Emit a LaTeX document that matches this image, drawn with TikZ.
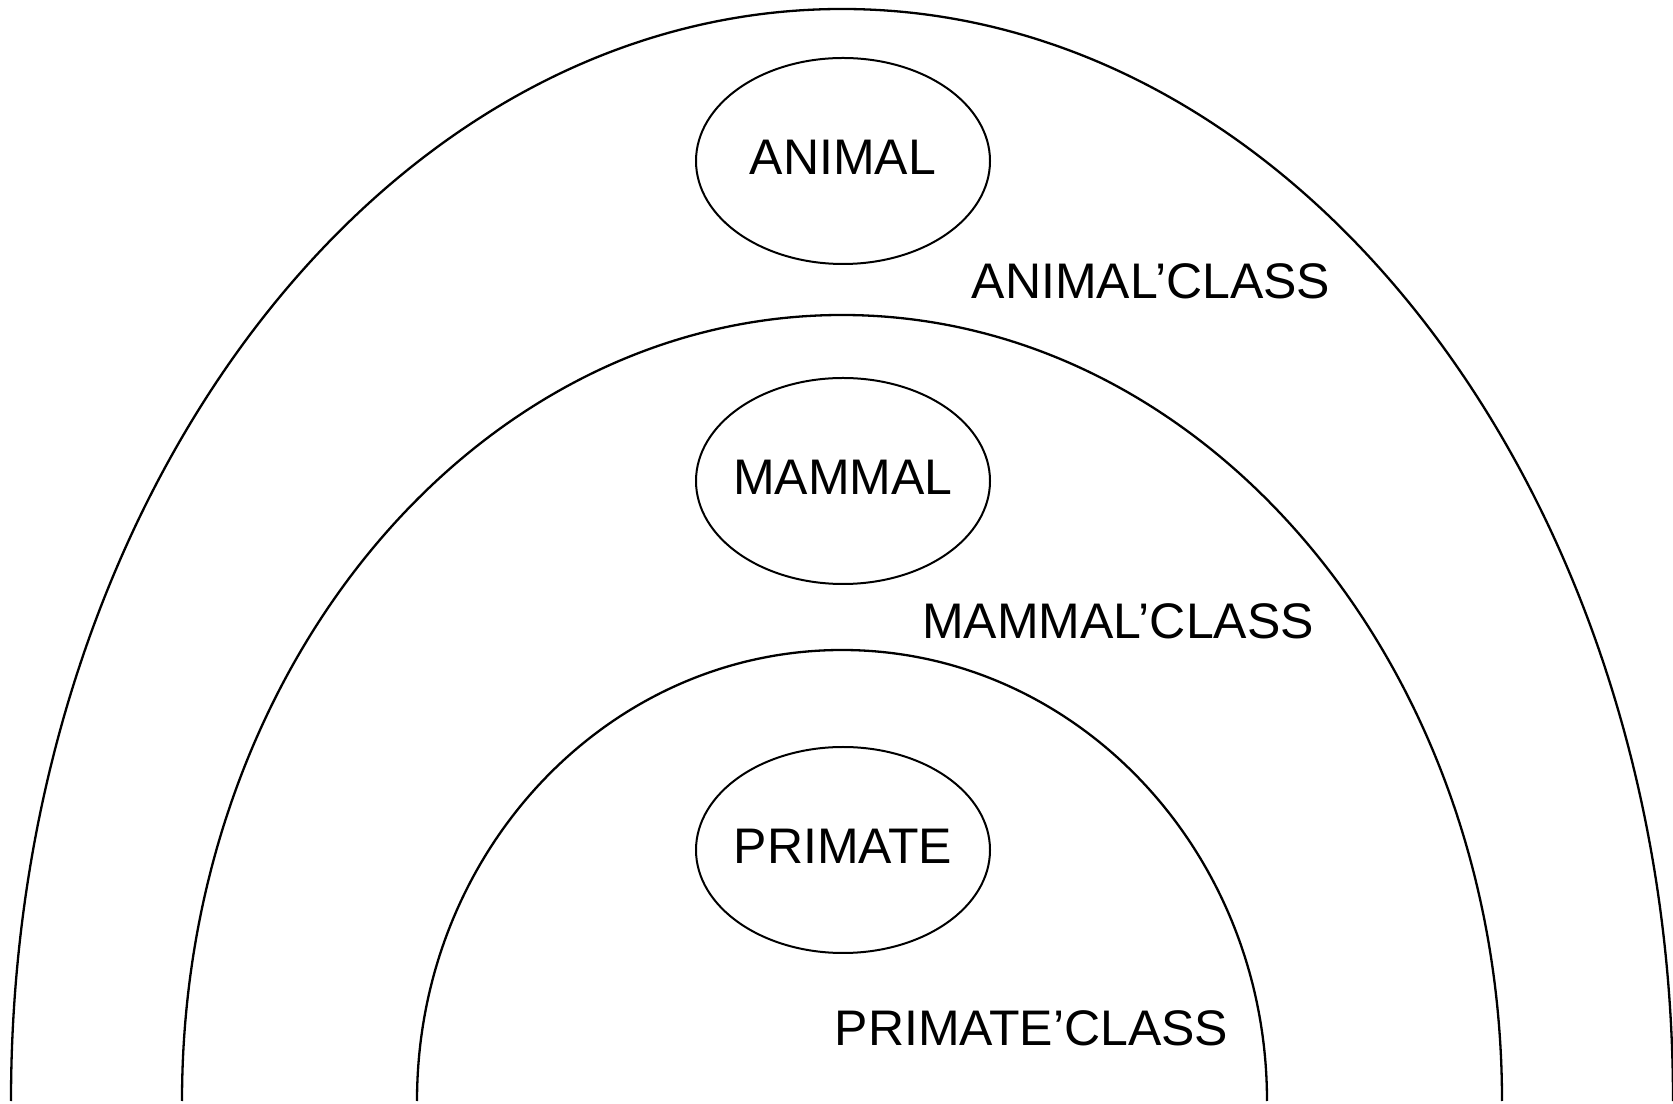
\documentclass[tikz,border=0pt]{standalone}
\usepackage{fontspec}
\setmainfont{Liberation Sans}
\usetikzlibrary{shapes.geometric}
\tikzset{
  classellipse/.style={ellipse, draw, line width=2pt, minimum width=294pt, minimum height=206pt, inner xsep=-40pt, inner ysep=0pt, text depth=8pt, font=\fontsize{50}{60}\selectfont},
  classlabel/.style={inner sep=0pt, font=\fontsize{50}{60}\selectfont},
  arch/.style={line width=2.3pt}
}
\begin{document}
\begin{tikzpicture}[x=1pt,y=1pt]
\useasboundingbox (0,0) rectangle (1673,1103);
% arches (half ellipses open at the bottom)
\draw[arch] (11,2) arc[start angle=180, end angle=0, x radius=831pt, y radius=1092pt];
\draw[arch] (182,2) arc[start angle=180, end angle=0, x radius=660pt, y radius=786pt];
\draw[arch] (417,2) arc[start angle=180, end angle=0, x radius=425pt, y radius=451pt];
% class ellipses
\node[classellipse] (animal) at (843,942) {ANIMAL};
\node[classellipse] (mammal) at (843,622) {MAMMAL};
\node[classellipse] (primate) at (843,253) {PRIMATE};
% labels
\node[classlabel] (animalclass) at (1151,821.5) {ANIMAL’CLASS};
\node[classlabel] (mammalclass) at (1118,481.5) {MAMMAL’CLASS};
\node[classlabel] (primateclass) at (1031.5,74.5) {PRIMATE’CLASS};
\end{tikzpicture}
\end{document}
